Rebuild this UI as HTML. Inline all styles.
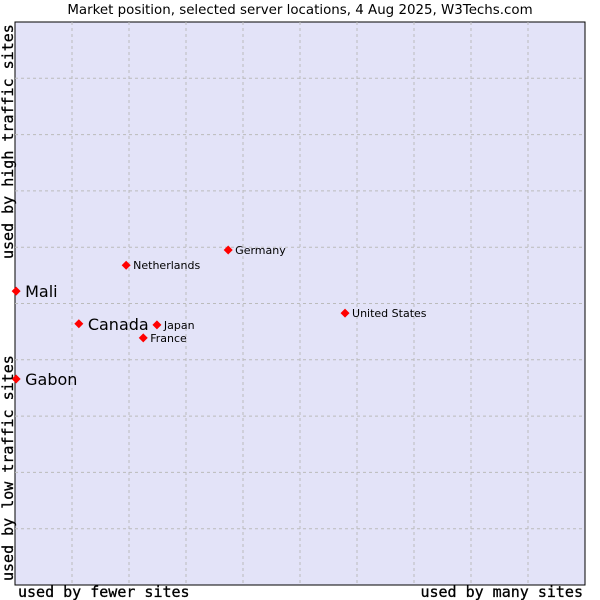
<!DOCTYPE html>
<html><head><meta charset="utf-8"><style>
body{margin:0;background:#fff;width:600px;height:600px;overflow:hidden}
svg{display:block;font-family:"DejaVu Sans","Liberation Sans",sans-serif}
.ax{font-family:"DejaVu Sans Mono","Liberation Mono",monospace;font-size:15px;stroke:#000;stroke-width:0.3}
</style></head><body>
<svg id="chart" width="600" height="600">
<text x="300" y="14" text-anchor="middle" font-size="13.4" fill="#000">Market position, selected server locations, 4 Aug 2025, W3Techs.com</text>
<rect x="15" y="22" width="570" height="563" fill="#e3e3f8" stroke="#000" stroke-width="1"/>
<g id="grid"></g>
<g id="points"></g>
<text class="ax" x="18" y="597">used by fewer sites</text>
<text class="ax" x="583" y="597" text-anchor="end">used by many sites</text>
<text class="ax" transform="translate(13,581) rotate(-90)">used by low traffic sites</text>
<text class="ax" transform="translate(13,259) rotate(-90)">used by high traffic sites</text>
</svg>
<script>
const names=["Mali","Canada","Gabon","Netherlands","Germany","United States","Japan","France"];
const xVals=[0.2,11.2,0.2,19.5,37.4,57.9,24.9,22.5];
const yVals=[52.2,46.4,36.6,56.8,59.5,48.3,46.2,43.9];
const highlighted=[true,true,true,false,false,false,false,false];
const L=15,T=22,W=570,H=563;
const sx=v=>L+v/100*W, sy=v=>T+H-v/100*H;
const NS="http://www.w3.org/2000/svg";
const grid=document.getElementById('grid');
for(let i=1;i<10;i++){
  const v=document.createElementNS(NS,'line');
  v.setAttribute('x1',sx(i*10));v.setAttribute('x2',sx(i*10));v.setAttribute('y1',T);v.setAttribute('y2',T+H);
  v.setAttribute('stroke','#bbb');v.setAttribute('stroke-dasharray','3,3');
  
  
  grid.appendChild(v);
  const h=document.createElementNS(NS,'line');
  h.setAttribute('y1',sy(i*10));h.setAttribute('y2',sy(i*10));h.setAttribute('x1',L);h.setAttribute('x2',L+W);
  h.setAttribute('stroke','#bbb');h.setAttribute('stroke-dasharray','3,3');
  
  
  grid.appendChild(h);
}
const pts=document.getElementById('points');
names.forEach((n,i)=>{
  const x=sx(xVals[i]),y=sy(yVals[i]);
  const d=document.createElementNS(NS,'path');
  d.setAttribute('d',`M${x} ${y-4.5}L${x+4.5} ${y}L${x} ${y+4.5}L${x-4.5} ${y}Z`);
  d.setAttribute('fill','#f00');
  
  
  pts.appendChild(d);
  const t=document.createElementNS(NS,'text');
  t.setAttribute('x',x+(highlighted[i]?9:7));
  t.setAttribute('y',y+(highlighted[i]?6:4));
  t.setAttribute('font-size',highlighted[i]?16:11);
  t.textContent=n;
  
  
  pts.appendChild(t);
});
</script>
</body></html>
